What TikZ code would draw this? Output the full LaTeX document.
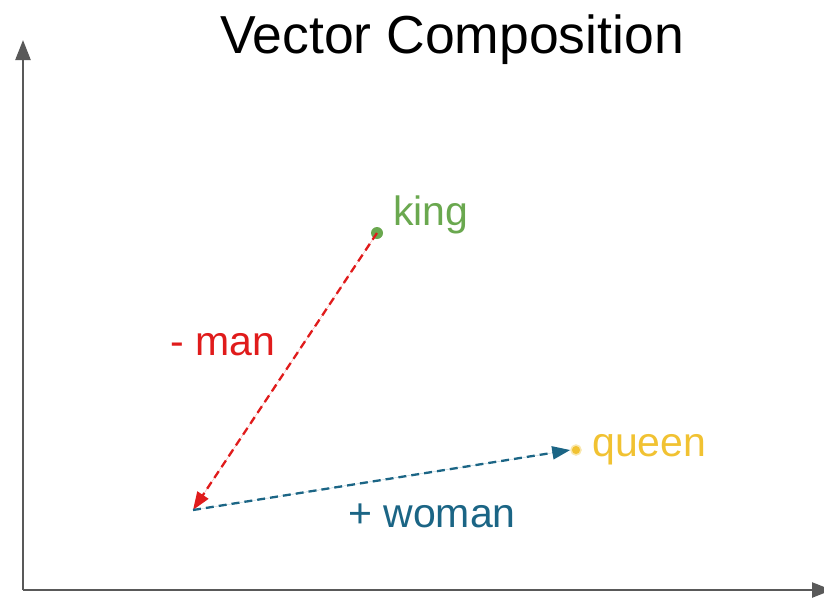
\documentclass[tikz,border=0pt]{standalone}
\usepackage{fontspec}
\setmainfont{Liberation Sans}
\usetikzlibrary{arrows.meta}
\definecolor{axisgray}{HTML}{595959}
\definecolor{kinggreen}{HTML}{6AA84F}
\definecolor{queenyellow}{HTML}{F1C232}
\definecolor{manred}{HTML}{E01B1B}
\definecolor{womanblue}{HTML}{1B6585}
\tikzset{
  axis/.style={draw=axisgray, line width=2.4pt, -{Triangle[length=20pt,width=15pt]}},
  vec/.style={line width=2.3pt, dash pattern=on 8pt off 5pt, -{Triangle[length=18pt,width=13pt]}},
  lbl/.style={font=\fontsize{41}{45}\selectfont, anchor=base west, inner sep=0pt},
  dot/.style={circle, inner sep=0pt},
}
\begin{document}
\begin{tikzpicture}[x=1pt,y=-1pt]
\useasboundingbox (0,0) rectangle (824,598);
% axes
\coordinate (O) at (23,590);
\coordinate (Ytop) at (23,40);
\coordinate (Xend) at (832,590);
\draw[axis] (O) -- (Ytop);
\draw[axis] (O) -- (Xend);
% title
\node[font=\fontsize{53.5}{60}\selectfont, anchor=base, inner sep=0pt] (title) at (452,53) {Vector Composition};
% points
\node[dot, fill=kinggreen, minimum size=12pt] (king) at (377,233) {};
\node[dot, fill=queenyellow, minimum size=10pt, draw=queenyellow!40, line width=1.5pt] (queen) at (576,450) {};
\coordinate (base) at (193,510);
% vectors
\draw[vec, draw=manred, fill=manred] (king.center) -- (base);
\draw[vec, draw=womanblue, fill=womanblue] (base) -- (queen.west);
% labels
\node[lbl, text=kinggreen] (kinglbl) at (393,225) {king};
\node[lbl, text=queenyellow] (queenlbl) at (592,456) {queen};
\node[lbl, text=manred] (manlbl) at (170,355) {- man};
\node[lbl, text=womanblue] (womanlbl) at (348,527) {+ woman};
\end{tikzpicture}
\end{document}
